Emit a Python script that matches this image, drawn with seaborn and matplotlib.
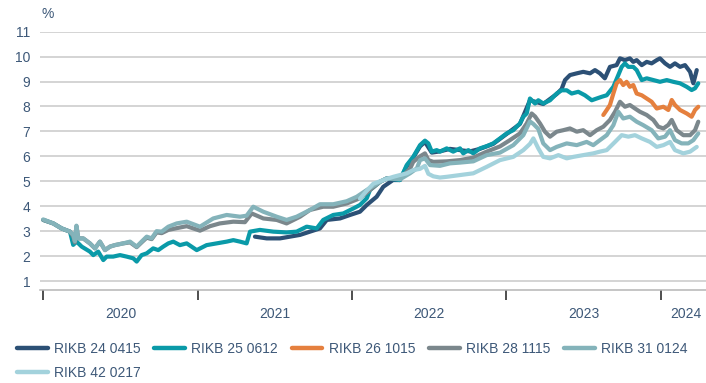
import matplotlib
matplotlib.use("Agg")
import matplotlib.pyplot as plt
from matplotlib.lines import Line2D
import seaborn as sns
import pandas as pd

# Yields of Icelandic treasury bonds, %, against time in decimal years
labels = ["RIKB 24 0415", "RIKB 25 0612", "RIKB 26 1015",
          "RIKB 28 1115", "RIKB 31 0124", "RIKB 42 0217"]
colors = ["#2c5075", "#0a9aa8", "#e5803e", "#7b878c", "#84b3ba", "#a3d2dc"]

rikb24_t = [2021.371, 2021.447, 2021.533, 2021.598, 2021.663, 2021.727, 2021.792, 2021.836,
            2021.922, 2021.987, 2022.051, 2022.095, 2022.159, 2022.202, 2022.265, 2022.310,
            2022.354, 2022.396, 2022.440, 2022.472, 2022.516, 2022.569, 2022.634, 2022.699,
            2022.764, 2022.828, 2022.914, 2023.001, 2023.087, 2023.152, 2023.238, 2023.325,
            2023.357, 2023.379, 2023.411, 2023.455, 2023.497, 2023.541, 2023.573, 2023.605,
            2023.637, 2023.670, 2023.713, 2023.735, 2023.767, 2023.799, 2023.821, 2023.843,
            2023.876, 2023.908, 2023.940, 2023.973, 2023.994, 2024.027, 2024.059, 2024.091,
            2024.124, 2024.156, 2024.189, 2024.210, 2024.232]
rikb24_v = [2.78, 2.71, 2.71, 2.78, 2.85, 2.98, 3.11, 3.45,
            3.51, 3.65, 3.78, 4.05, 4.38, 4.78, 5.05, 5.05,
            5.60, 5.95, 6.40, 6.58, 6.15, 6.20, 6.30, 6.25,
            6.20, 6.30, 6.50, 6.90, 7.30, 8.25, 8.10, 8.50,
            8.70, 9.06, 9.26, 9.33, 9.39, 9.33, 9.46, 9.33,
            9.13, 9.59, 9.66, 9.93, 9.86, 9.93, 9.79, 9.86,
            9.66, 9.79, 9.73, 9.86, 9.93, 9.73, 9.59, 9.73,
            9.59, 9.66, 9.39, 8.93, 9.46]

rikb25_t = [2020.000, 2020.065, 2020.119, 2020.173, 2020.194, 2020.216, 2020.249, 2020.302,
            2020.324, 2020.356, 2020.389, 2020.411, 2020.453, 2020.497, 2020.540, 2020.583,
            2020.605, 2020.637, 2020.670, 2020.712, 2020.745, 2020.777, 2020.810, 2020.842,
            2020.885, 2020.929, 2020.994, 2021.058, 2021.123, 2021.188, 2021.231, 2021.274,
            2021.317, 2021.339, 2021.403, 2021.490, 2021.576, 2021.641, 2021.706, 2021.771,
            2021.813, 2021.878, 2021.943, 2022.008, 2022.051, 2022.095, 2022.116, 2022.181,
            2022.226, 2022.310, 2022.354, 2022.396, 2022.440, 2022.472, 2022.494, 2022.516,
            2022.548, 2022.569, 2022.613, 2022.655, 2022.699, 2022.720, 2022.753, 2022.785,
            2022.828, 2022.872, 2022.914, 2022.958, 2023.001, 2023.044, 2023.087, 2023.109,
            2023.131, 2023.152, 2023.185, 2023.206, 2023.238, 2023.282, 2023.325, 2023.357,
            2023.390, 2023.422, 2023.465, 2023.508, 2023.552, 2023.584, 2023.617, 2023.649,
            2023.692, 2023.724, 2023.746, 2023.767, 2023.789, 2023.821, 2023.843, 2023.876,
            2023.908, 2023.951, 2023.994, 2024.038, 2024.080, 2024.124, 2024.167, 2024.199,
            2024.221, 2024.242]
rikb25_v = [3.45, 3.31, 3.11, 2.98, 2.45, 2.58, 2.38, 2.18,
            2.04, 2.18, 1.84, 1.98, 1.98, 2.04, 1.98, 1.91,
            1.78, 2.04, 2.11, 2.31, 2.24, 2.38, 2.51, 2.58,
            2.44, 2.51, 2.24, 2.44, 2.51, 2.58, 2.64, 2.58,
            2.51, 2.98, 3.05, 2.98, 2.95, 2.98, 3.18, 3.11,
            3.45, 3.65, 3.71, 3.91, 4.05, 4.32, 4.65, 4.98,
            5.12, 5.05, 5.65, 5.98, 6.45, 6.63, 6.52, 6.19,
            6.25, 6.19, 6.32, 6.19, 6.32, 6.12, 6.25, 6.12,
            6.32, 6.41, 6.52, 6.72, 6.92, 7.05, 7.32, 7.59,
            7.72, 8.32, 8.12, 8.25, 8.12, 8.25, 8.52, 8.65,
            8.65, 8.52, 8.59, 8.45, 8.25, 8.32, 8.39, 8.45,
            8.79, 9.26, 9.59, 9.73, 9.59, 9.59, 9.46, 9.06,
            9.13, 9.06, 8.99, 9.06, 8.99, 8.93, 8.79, 8.66,
            8.73, 8.93]

rikb26_t = [2023.627, 2023.649, 2023.670, 2023.692, 2023.713, 2023.735, 2023.756, 2023.778,
            2023.799, 2023.821, 2023.843, 2023.876, 2023.908, 2023.940, 2023.973, 2024.016,
            2024.048, 2024.070, 2024.091, 2024.124, 2024.167, 2024.199, 2024.221, 2024.242]
rikb26_v = [7.66, 7.86, 8.06, 8.52, 8.93, 9.06, 8.86, 8.99,
            8.79, 8.86, 8.52, 8.45, 8.32, 8.19, 7.92, 7.99,
            7.86, 8.26, 8.06, 7.86, 7.72, 7.59, 7.86, 7.99]

rikb28_t = [2020.000, 2020.065, 2020.119, 2020.173, 2020.194, 2020.205, 2020.215, 2020.227,
            2020.259, 2020.302, 2020.335, 2020.367, 2020.400, 2020.432, 2020.464, 2020.518,
            2020.562, 2020.605, 2020.637, 2020.670, 2020.702, 2020.734, 2020.767, 2020.810,
            2020.864, 2020.929, 2021.015, 2021.080, 2021.143, 2021.231, 2021.306, 2021.350,
            2021.425, 2021.512, 2021.576, 2021.663, 2021.727, 2021.813, 2021.878, 2021.965,
            2022.051, 2022.116, 2022.181, 2022.226, 2022.310, 2022.375, 2022.396, 2022.440,
            2022.472, 2022.494, 2022.526, 2022.613, 2022.699, 2022.785, 2022.872, 2022.958,
            2023.022, 2023.087, 2023.131, 2023.163, 2023.185, 2023.217, 2023.249, 2023.282,
            2023.325, 2023.368, 2023.411, 2023.455, 2023.497, 2023.541, 2023.584, 2023.627,
            2023.670, 2023.703, 2023.735, 2023.767, 2023.799, 2023.832, 2023.864, 2023.908,
            2023.951, 2023.983, 2024.016, 2024.048, 2024.070, 2024.102, 2024.145, 2024.189,
            2024.221, 2024.242]
rikb28_v = [3.45, 3.31, 3.11, 2.98, 2.80, 2.55, 3.20, 2.71,
            2.71, 2.51, 2.31, 2.58, 2.24, 2.38, 2.44, 2.51,
            2.55, 2.36, 2.55, 2.74, 2.68, 2.95, 2.92, 3.05,
            3.12, 3.20, 3.02, 3.20, 3.31, 3.38, 3.36, 3.71,
            3.51, 3.45, 3.31, 3.58, 3.85, 3.98, 3.98, 4.11,
            4.32, 4.65, 4.98, 5.12, 5.10, 5.50, 5.78, 6.00,
            6.12, 5.85, 5.78, 5.80, 5.85, 5.95, 6.19, 6.40,
            6.65, 6.92, 7.32, 7.72, 7.60, 7.32, 6.99, 6.79,
            6.99, 7.05, 7.12, 6.99, 7.05, 6.85, 7.05, 7.19,
            7.46, 7.79, 8.19, 7.99, 8.06, 7.92, 7.79, 7.66,
            7.46, 7.19, 7.12, 7.26, 7.46, 7.05, 6.85, 6.85,
            7.05, 7.39]

rikb31_t = [2020.000, 2020.065, 2020.119, 2020.173, 2020.194, 2020.205, 2020.215, 2020.227,
            2020.259, 2020.302, 2020.335, 2020.367, 2020.400, 2020.432, 2020.464, 2020.518,
            2020.562, 2020.605, 2020.637, 2020.670, 2020.702, 2020.734, 2020.767, 2020.810,
            2020.864, 2020.929, 2021.015, 2021.101, 2021.188, 2021.274, 2021.317, 2021.360,
            2021.425, 2021.512, 2021.576, 2021.641, 2021.727, 2021.792, 2021.878, 2021.965,
            2022.030, 2022.095, 2022.181, 2022.226, 2022.310, 2022.375, 2022.420, 2022.440,
            2022.472, 2022.505, 2022.569, 2022.634, 2022.699, 2022.785, 2022.872, 2022.958,
            2023.044, 2023.109, 2023.152, 2023.174, 2023.206, 2023.238, 2023.282, 2023.325,
            2023.390, 2023.455, 2023.519, 2023.562, 2023.605, 2023.649, 2023.692, 2023.724,
            2023.756, 2023.799, 2023.843, 2023.886, 2023.940, 2023.983, 2024.027, 2024.059,
            2024.091, 2024.134, 2024.177, 2024.210, 2024.242]
rikb31_v = [3.47, 3.31, 3.11, 2.98, 2.85, 2.60, 3.22, 2.71,
            2.71, 2.51, 2.31, 2.58, 2.24, 2.38, 2.44, 2.51,
            2.58, 2.38, 2.58, 2.78, 2.71, 3.00, 2.98, 3.18,
            3.31, 3.38, 3.18, 3.51, 3.65, 3.58, 3.62, 3.98,
            3.78, 3.58, 3.45, 3.58, 3.85, 4.08, 4.08, 4.20,
            4.38, 4.65, 4.98, 5.12, 5.08, 5.32, 5.52, 5.85,
            5.92, 5.65, 5.62, 5.72, 5.75, 5.80, 6.05, 6.15,
            6.45, 6.85, 7.40, 7.30, 7.10, 6.52, 6.25, 6.38,
            6.52, 6.45, 6.58, 6.45, 6.65, 6.85, 7.25, 7.79,
            7.52, 7.59, 7.39, 7.25, 7.05, 6.72, 6.79, 7.05,
            6.65, 6.52, 6.52, 6.65, 6.92]

rikb42_t = [2022.051, 2022.095, 2022.137, 2022.181, 2022.226, 2022.267, 2022.310, 2022.354,
            2022.396, 2022.440, 2022.472, 2022.494, 2022.526, 2022.569, 2022.613, 2022.699,
            2022.785, 2022.872, 2022.958, 2023.044, 2023.109, 2023.152, 2023.174, 2023.206,
            2023.238, 2023.282, 2023.336, 2023.390, 2023.433, 2023.497, 2023.562, 2023.605,
            2023.649, 2023.703, 2023.746, 2023.789, 2023.832, 2023.876, 2023.929, 2023.973,
            2024.016, 2024.059, 2024.091, 2024.145, 2024.189, 2024.232]
rikb42_v = [4.30, 4.62, 4.90, 5.00, 5.10, 5.18, 5.25, 5.32,
            5.45, 5.50, 5.62, 5.30, 5.20, 5.15, 5.18, 5.25,
            5.32, 5.58, 5.85, 5.98, 6.25, 6.50, 6.72, 6.32,
            5.98, 5.92, 6.05, 5.92, 5.98, 6.05, 6.12, 6.19,
            6.25, 6.58, 6.85, 6.79, 6.85, 6.72, 6.58, 6.38,
            6.45, 6.58, 6.25, 6.12, 6.19, 6.38]

years = [2020, 2021, 2022, 2023, 2024]
year_label_pos = [2020.5, 2021.5, 2022.5, 2023.5, 2024.16]

series = [(rikb24_t, rikb24_v), (rikb25_t, rikb25_v), (rikb26_t, rikb26_v),
          (rikb28_t, rikb28_v), (rikb31_t, rikb31_v), (rikb42_t, rikb42_v)]
frames = [pd.DataFrame({"t": t, "yield": v, "bond": name})
          for name, (t, v) in zip(labels, series)]
df = pd.concat(frames, ignore_index=True)

sns.set_theme(style="white")
plt.rcParams["font.family"] = ["Liberation Sans", "DejaVu Sans"]
text_color = "#3d5878"

fig = plt.figure(figsize=(7.06, 3.83), dpi=100)
ax = fig.add_axes([40 / 706, 1 - 290 / 383, 666 / 706, (290 - 31.7) / 383])

sns.lineplot(data=df, x="t", y="yield", hue="bond", hue_order=labels,
             palette=colors, estimator=None, sort=True, linewidth=3.0,
             legend=False, ax=ax)
for ln in ax.lines:
    ln.set_solid_joinstyle("round")

ax.set_xlim(2019.979, 2024.292)
ax.set_ylim(0.64, 11)
ax.set_yticks(range(1, 12))
ax.yaxis.grid(True, color="#c9c9c9", linewidth=1.1)
ax.set_axisbelow(True)
ax.set_xlabel("")
ax.set_ylabel("")

for side in ["left", "top", "right"]:
    ax.spines[side].set_visible(False)
ax.spines["bottom"].set_color("#b5b5b5")
ax.spines["bottom"].set_linewidth(1.1)

ax.set_xticks(years)
ax.set_xticklabels([])
ax.set_xticks(year_label_pos, minor=True)
ax.set_xticklabels([str(y) for y in years], minor=True)
ax.tick_params(axis="x", which="major", direction="out", length=7, width=1.3,
               color="#404040", bottom=True)
ax.tick_params(axis="x", which="minor", length=0, pad=12, labelsize=10,
               labelcolor=text_color)
ax.tick_params(axis="y", length=0, pad=7, labelsize=10, labelcolor=text_color)

fig.text(41 / 706, 1 - 14 / 383, "%", fontsize=10, color=text_color,
         ha="left", va="center")

# legend fills column by column; order the entries so rows read left to right
handles = [Line2D([0], [0], color=c, linewidth=3.2) for c in colors]
order = [0, 5, 1, 2, 3, 4]
fig.legend([handles[i] for i in order], [labels[i] for i in order],
           loc="upper left", bbox_to_anchor=(17 / 706, 1 - 342 / 383),
           ncol=5, frameon=False, fontsize=10, handlelength=2.2, handletextpad=0.45,
           columnspacing=1.0, labelspacing=0.7, borderpad=0, borderaxespad=0,
           labelcolor=text_color)

fig.savefig("out.png", dpi=100)
